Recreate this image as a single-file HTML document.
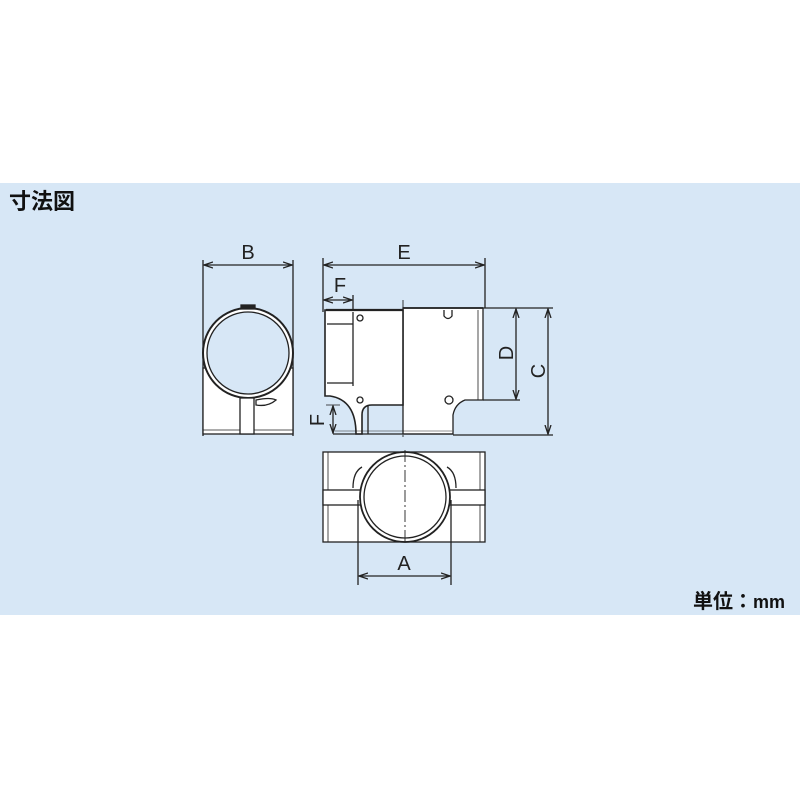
<!DOCTYPE html>
<html><head><meta charset="utf-8"><style>
html,body{margin:0;padding:0;background:#fff;}
svg{display:block;}
</style></head><body>
<svg width="800" height="800" viewBox="0 0 800 800" xmlns="http://www.w3.org/2000/svg">
<defs>
<marker id="ar" markerWidth="10" markerHeight="8" refX="9" refY="4" orient="auto-start-reverse" markerUnits="userSpaceOnUse">
<path d="M0,1 L9,4 L0,7" fill="none" stroke="#222" stroke-width="1.3"/>
</marker>
</defs>
<rect x="0" y="0" width="800" height="800" fill="#fff"/>
<rect x="0" y="183" width="800" height="432" fill="#d7e7f6"/>
<text x="9" y="209" font-family="'Liberation Sans','Noto Sans CJK JP',sans-serif" font-size="22" font-weight="bold" fill="#111">寸法図</text>
<text x="693" y="608" font-family="'Liberation Sans','Noto Sans CJK JP',sans-serif" font-size="20" font-weight="bold" fill="#111">単位：<tspan font-size="18">mm</tspan></text>

<g stroke="#222" stroke-width="1.3" fill="none" font-family="'Liberation Sans',sans-serif">
<!-- Side view -->
<line x1="203" y1="260" x2="203" y2="436"/>
<line x1="293" y1="260" x2="293" y2="436"/>
<line x1="204" y1="265" x2="292" y2="265" marker-start="url(#ar)" marker-end="url(#ar)"/>
<rect x="203" y="368" width="90" height="66" fill="#fff"/>
<circle cx="248" cy="353" r="45" fill="#fff" stroke-width="2"/>
<circle cx="248" cy="353" r="41" fill="#d7e7f6"/>
<line x1="203" y1="430" x2="293" y2="430" stroke-width="0.8"/>
<rect x="240" y="398" width="14" height="36" fill="#fff"/>
<path d="M256,400 Q270,397 276,400 Q268,407 256,405 Z" fill="#fff"/>
<rect x="241" y="305" width="14" height="4" fill="#222"/>

<!-- Front view dims -->
<line x1="323" y1="258" x2="323" y2="312"/>
<line x1="485" y1="258" x2="485" y2="308"/>
<line x1="324" y1="265" x2="484" y2="265" marker-start="url(#ar)" marker-end="url(#ar)"/>
<line x1="353" y1="295" x2="353" y2="312"/>
<line x1="324" y1="300" x2="352" y2="300" marker-start="url(#ar)" marker-end="url(#ar)"/>
<!-- Front body -->
<path d="M403,308 L483,308 L483,400 L465,400 Q455,404 453,415 L453,434 L403,434 Z" fill="#fff"/>
<path d="M325,310 L403,310 L403,405 L372,405 Q362,405 362,415 L362,434 L356,434 Q356,400 330,396 L325,396 Z" fill="#fff" stroke-width="1.6"/>
<path d="M326,310 L403,310" stroke-width="2.2"/>
<line x1="327" y1="324" x2="353" y2="324"/>
<line x1="353" y1="312" x2="353" y2="386"/>
<line x1="327" y1="383" x2="353" y2="383"/>
<line x1="403" y1="308" x2="483" y2="308" stroke-width="1.8"/>
<line x1="478" y1="310" x2="478" y2="400" stroke-width="0.8"/>
<line x1="368" y1="406" x2="368" y2="434"/>
<line x1="333" y1="434" x2="453" y2="434"/>
<line x1="335" y1="431" x2="452" y2="431" stroke-width="0.6"/>
<line x1="403" y1="300" x2="403" y2="438" stroke-dasharray="12,3,2,3" stroke-width="0.9"/>
<circle cx="360" cy="318" r="3"/>
<circle cx="360" cy="400" r="3"/>
<path d="M444,310 L444,316 Q448,321 452,316 L452,310" fill="#fff"/>
<circle cx="449" cy="400" r="4" fill="#fff"/>
<!-- D & C dims -->
<line x1="483" y1="308" x2="553" y2="308"/>
<line x1="483" y1="400" x2="520" y2="400"/>
<line x1="453" y1="435" x2="553" y2="435"/>
<line x1="516" y1="309" x2="516" y2="399" marker-start="url(#ar)" marker-end="url(#ar)"/>
<line x1="548" y1="309" x2="548" y2="434" marker-start="url(#ar)" marker-end="url(#ar)"/>
<!-- F vertical -->
<line x1="326" y1="405" x2="340" y2="405" stroke-width="0.8"/>
<line x1="333" y1="406" x2="333" y2="433" marker-start="url(#ar)" marker-end="url(#ar)"/>

<!-- Bottom view -->
<rect x="323" y="452" width="162" height="90" fill="#fff"/>
<line x1="328" y1="452" x2="328" y2="542" stroke-width="0.8"/>
<line x1="480" y1="452" x2="480" y2="542" stroke-width="0.8"/>
<rect x="323" y="490" width="39" height="15" fill="#fff"/>
<rect x="449" y="490" width="36" height="15" fill="#fff"/>
<path d="M353,488 Q353,472 362,467" />
<path d="M456,488 Q456,472 447,467" />
<circle cx="405" cy="497" r="45" fill="#fff" stroke-width="1.8"/>
<circle cx="405" cy="497" r="41"/>
<line x1="405" y1="450" x2="405" y2="545" stroke-dasharray="12,3,2,3" stroke-width="0.9"/>
<line x1="358" y1="500" x2="358" y2="585"/>
<line x1="451" y1="500" x2="451" y2="585"/>
<line x1="359" y1="576" x2="450" y2="576" marker-start="url(#ar)" marker-end="url(#ar)"/>
</g>
<g font-family="'Liberation Sans',sans-serif" font-size="20" fill="#222" text-anchor="middle">
<text x="248" y="259">B</text>
<text x="404" y="259">E</text>
<text x="340" y="292">F</text>
<text x="404" y="570">A</text>
<text transform="translate(513,353) rotate(-90)">D</text>
<text transform="translate(545,371) rotate(-90)">C</text>
<text transform="translate(324,420) rotate(-90)">F</text>
</g>
</svg>
</body></html>
